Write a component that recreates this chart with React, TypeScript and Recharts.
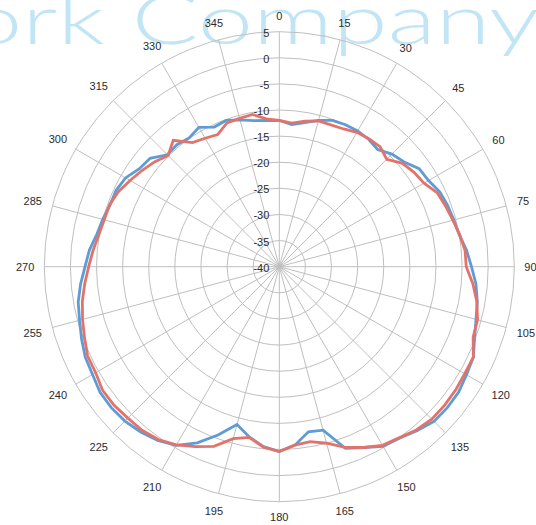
import React from 'react';
import { RadarChart, Radar, PolarGrid, PolarAngleAxis, PolarRadiusAxis } from 'recharts';

// angle categories (degrees, one point every 5°)
const angles = [
  0, 5, 10, 15, 20, 25, 30, 35, 40, 45, 50, 55,
  60, 65, 70, 75, 80, 85, 90, 95, 100, 105, 110, 115,
  120, 125, 130, 135, 140, 145, 150, 155, 160, 165, 170, 175,
  180, 185, 190, 195, 200, 205, 210, 215, 220, 225, 230, 235,
  240, 245, 250, 255, 260, 265, 270, 275, 280, 285, 290, 295,
  300, 305, 310, 315, 320, 325, 330, 335, 340, 345, 350, 355,
];

const blueSeries = [
  -12.0, -12.7, -12.0, -11.0, -10.2, -10.0, -10.0, -10.2, -10.7, -9.5, -8.8, -7.3,
  -7.0, -6.1, -5.7, -5.4, -5.0, -4.0, -3.2, -2.2, -1.5, -1.0, -0.2, 1.0,
  1.4, 1.9, 2.0, 1.9, 1.0, 0.1, -0.3, -1.8, -3.0, -7.6, -7.9, -5.7,
  -4.6, -5.4, -6.9, -8.7, -5.7, -2.8, -0.5, 0.6, 1.3, 1.8, 2.0, 1.9,
  1.3, 1.0, 0.3, -0.4, -0.9, -1.8, -2.8, -3.5, -4.5, -5.0, -5.5, -5.5,
  -6.0, -7.3, -7.7, -9.7, -9.5, -9.9, -9.2, -10.5, -10.2, -10.9, -11.6, -11.9,
];

const redSeries = [
  -12.0, -12.4, -11.7, -11.1, -11.1, -10.9, -10.3, -10.1, -10.0, -10.9, -9.2, -8.5,
  -8.0, -6.6, -6.1, -5.6, -4.9, -4.3, -4.2, -2.8, -1.6, -0.7, -0.5, 1.0,
  1.0, 1.2, 1.3, 1.3, 0.8, 0.0, -0.5, -1.8, -3.2, -5.0, -6.0, -5.7,
  -4.6, -5.3, -6.8, -5.9, -3.4, -2.0, -0.6, 0.4, 0.9, 1.0, 1.3, 1.3,
  0.6, 0.5, -0.3, -1.0, -1.7, -2.6, -3.5, -4.2, -4.9, -5.3, -5.4, -6.0,
  -7.0, -7.9, -8.8, -9.9, -8.4, -11.0, -11.6, -12.1, -10.7, -10.6, -10.4, -11.6,
];

// labelled spokes and radial ticks
const spokeAngles = [0, 15, 30, 45, 60, 75, 90, 105, 120, 135, 150, 165, 180, 195, 210, 225, 240, 255, 270, 285, 300, 315, 330, 345];
const radiusTicks = [-40, -35, -30, -25, -20, -15, -10, -5, 0, 5];

const data = angles.map((a, i) => ({ angle: a, blue: blueSeries[i], red: redSeries[i] }));

const CX = 279.3;
const CY = 266.7;
const FONT = '"Liberation Sans", Arial, sans-serif';

const AngleTick = (props: any) => {
  const { x, y, payload } = props;
  const v = Number(payload.value);
  if (!spokeAngles.includes(v)) return <g />;
  const dx = x - CX;
  const dy = y - CY;
  const len = Math.hypot(dx, dy) || 1;
  const ux = dx / len;
  const uy = dy / len;
  const label = String(v);
  const off = 2 + 0.5 * (label.length * 6.1 * Math.abs(ux) + 11 * Math.abs(uy));
  return (
    <text x={x + ux * off} y={y + uy * off} textAnchor="middle" dominantBaseline="central"
      fontFamily={FONT} fontSize={11} fill="#2b2b2b">
      {label}
    </text>
  );
};

const RadiusTick = (props: any) => {
  const { x, y, payload } = props;
  return (
    <text x={x - 10} y={y + 1} textAnchor="end" dominantBaseline="central"
      fontFamily={FONT} fontSize={11} fill="#2b2b2b">
      {payload.value}
    </text>
  );
};

export default function App() {
  return (
    <div style={{ position: 'relative', width: 536, height: 525, overflow: 'hidden' }}>
      <style>{'body{margin:0;overflow:hidden}'}</style>
      {/* faded watermark behind the chart */}
      <svg width={536} height={525} style={{ position: 'absolute', left: 0, top: 0 }}>
        <text x={-33} y={44} fontFamily="Lato, 'Open Sans', sans-serif" fontWeight={300} fontSize={68}
          fill="#c2e5f6" textLength={572} lengthAdjust="spacingAndGlyphs">
          ork Company
        </text>
      </svg>
      <div style={{ position: 'absolute', left: 0, top: 0 }}>
        <RadarChart width={536} height={525} data={data} cx={CX} cy={CY}
          innerRadius={0} outerRadius={235} margin={{ top: 0, right: 0, bottom: 0, left: 0 }}>
          <PolarGrid gridType="circle" stroke="#bfbfbf" strokeWidth={1}
            polarAngles={spokeAngles.map((a) => 90 - a)} />
          <PolarAngleAxis dataKey="angle" tick={AngleTick} tickLine={false} axisLine={false} />
          <PolarRadiusAxis angle={90} domain={[-40, 5]} ticks={radiusTicks as any} tickCount={10}
            tick={RadiusTick} axisLine={false} tickLine={false} />
          <Radar dataKey="blue" stroke="#5f9bd6" strokeWidth={2.8} fill="none" fillOpacity={0}
            dot={false} isAnimationActive={false} />
          <Radar dataKey="red" stroke="#e2736a" strokeWidth={2.8} fill="none" fillOpacity={0}
            dot={false} isAnimationActive={false} />
        </RadarChart>
      </div>
    </div>
  );
}
